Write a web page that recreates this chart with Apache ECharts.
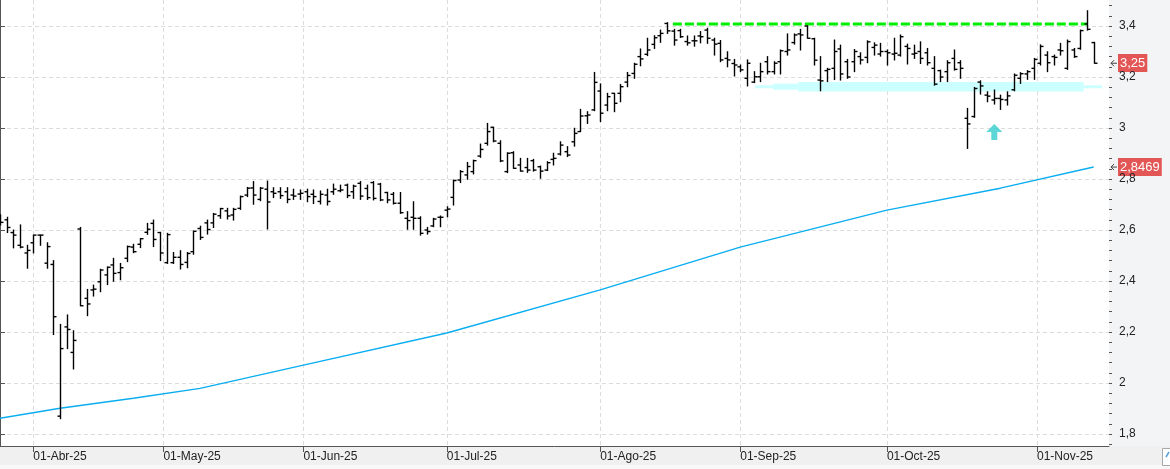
<!DOCTYPE html>
<html lang="es">
<head>
    <meta charset="UTF-8">
    <title>Barras OHLC diarias</title>
    <script src="https://cdn.jsdelivr.net/npm/echarts@6/dist/echarts.min.js"></script>
    <style>
        html, body { margin: 0; padding: 0; background: #f0f0f0; }
        #chart { width: 1170px; height: 469px; }
    </style>
</head>
<body>
<div id="chart"></div>

<script>
    // ---- datos ----
    var firstDay = '2025-03-25';
    var holidays = ['2025-04-18', '2025-04-21', '2025-05-01'];
    var monthNames = ['Ene', 'Feb', 'Mar', 'Abr', 'May', 'Jun', 'Jul', 'Ago', 'Sep', 'Oct', 'Nov', 'Dic'];
    var tickMonths = ['2025-04-01', '2025-05-01', '2025-06-01', '2025-07-01', '2025-08-01', '2025-09-01', '2025-10-01', '2025-11-01'];

    var open = [2.64, 2.64, 2.59, 2.54, 2.51, 2.55, 2.58, 2.47, 2.465, 1.87,
        2.22, 2.12, 2.604, 2.332, 2.365, 2.397, 2.424, 2.463, 2.433, 2.489,
        2.533, 2.544, 2.591, 2.626, 2.59, 2.472, 2.472, 2.493, 2.473, 2.515,
        2.606, 2.628, 2.628, 2.656, 2.675, 2.659, 2.685, 2.737, 2.765, 2.72,
        2.76, 2.75, 2.75, 2.75, 2.737, 2.741, 2.75, 2.74, 2.712, 2.737,
        2.75, 2.754, 2.776, 2.75, 2.783, 2.763, 2.786, 2.78, 2.747, 2.74,
        2.705, 2.646, 2.65, 2.646, 2.6, 2.616, 2.65, 2.678, 2.728, 2.796,
        2.816, 2.829, 2.89, 2.94, 3.003, 2.94, 2.829, 2.903, 2.855, 2.845,
        2.872, 2.848, 2.835, 2.877, 2.898, 2.907, 2.946, 2.986, 3.048, 3.071,
        3.145, 3.09, 3.136, 3.136, 3.18, 3.214, 3.28, 3.289, 3.328, 3.362,
        3.41, 3.38, 3.382, 3.339, 3.342, 3.361, 3.384, 3.345, 3.332, 3.273,
        3.253, 3.24, 3.195, 3.18, 3.201, 3.26, 3.221, 3.26, 3.30, 3.335,
        3.369, 3.40, 3.35, 3.188, 3.225, 3.234, 3.31, 3.26, 3.26, 3.28,
        3.277, 3.316, 3.29, 3.30, 3.29, 3.286, 3.32, 3.29, 3.30, 3.295,
        3.234, 3.225, 3.221, 3.273, 3.256, 3.038, 3.045, 3.18, 3.129, 3.11,
        3.116, 3.11, 3.15, 3.195, 3.212, 3.234, 3.254, 3.286, 3.28, 3.306,
        3.234, 3.306, 3.312, 3.408, 3.335];
    var high = [2.66, 2.65, 2.60, 2.62, 2.54, 2.58, 2.58, 2.55, 2.48, 2.23,
        2.267, 2.205, 2.61, 2.367, 2.384, 2.446, 2.455, 2.489, 2.469, 2.537,
        2.544, 2.567, 2.626, 2.639, 2.591, 2.587, 2.512, 2.519, 2.512, 2.596,
        2.615, 2.639, 2.665, 2.685, 2.685, 2.685, 2.733, 2.767, 2.79, 2.767,
        2.792, 2.766, 2.766, 2.766, 2.76, 2.757, 2.76, 2.757, 2.753, 2.76,
        2.78, 2.776, 2.78, 2.776, 2.79, 2.776, 2.79, 2.783, 2.748, 2.747,
        2.747, 2.672, 2.711, 2.652, 2.61, 2.646, 2.655, 2.691, 2.796, 2.833,
        2.865, 2.874, 2.937, 3.018, 3.003, 2.95, 2.903, 2.907, 2.881, 2.881,
        2.877, 2.851, 2.868, 2.901, 2.946, 2.927, 2.999, 3.073, 3.064, 3.218,
        3.173, 3.136, 3.136, 3.171, 3.218, 3.254, 3.31, 3.352, 3.362, 3.384,
        3.413, 3.387, 3.387, 3.361, 3.361, 3.378, 3.391, 3.352, 3.343, 3.299,
        3.269, 3.247, 3.267, 3.221, 3.254, 3.28, 3.26, 3.306, 3.369, 3.369,
        3.387, 3.401, 3.352, 3.28, 3.234, 3.345, 3.325, 3.269, 3.308, 3.295,
        3.342, 3.334, 3.332, 3.306, 3.352, 3.365, 3.329, 3.325, 3.338, 3.312,
        3.28, 3.227, 3.264, 3.306, 3.264, 3.077, 3.159, 3.185, 3.142, 3.149,
        3.129, 3.142, 3.212, 3.217, 3.225, 3.273, 3.326, 3.299, 3.286, 3.332,
        3.345, 3.312, 3.384, 3.46, 3.336];
    var low = [2.62, 2.59, 2.53, 2.53, 2.45, 2.51, 2.54, 2.45, 2.19, 1.86,
        2.135, 2.055, 2.303, 2.264, 2.341, 2.358, 2.386, 2.399, 2.405, 2.476,
        2.511, 2.531, 2.583, 2.535, 2.48, 2.469, 2.469, 2.447, 2.452, 2.505,
        2.563, 2.584, 2.61, 2.646, 2.643, 2.639, 2.681, 2.731, 2.701, 2.715,
        2.604, 2.727, 2.724, 2.707, 2.72, 2.72, 2.711, 2.704, 2.702, 2.698,
        2.74, 2.75, 2.727, 2.724, 2.72, 2.72, 2.718, 2.715, 2.707, 2.702,
        2.665, 2.603, 2.603, 2.58, 2.584, 2.613, 2.613, 2.652, 2.698, 2.786,
        2.799, 2.82, 2.885, 2.933, 2.946, 2.868, 2.825, 2.842, 2.831, 2.826,
        2.831, 2.803, 2.833, 2.855, 2.894, 2.888, 2.929, 2.986, 3.018, 3.068,
        3.025, 3.068, 3.064, 3.103, 3.162, 3.195, 3.244, 3.284, 3.312, 3.336,
        3.371, 3.325, 3.355, 3.325, 3.321, 3.334, 3.332, 3.286, 3.26, 3.24,
        3.204, 3.221, 3.165, 3.178, 3.182, 3.212, 3.212, 3.212, 3.286, 3.329,
        3.306, 3.352, 3.247, 3.146, 3.182, 3.19, 3.188, 3.195, 3.221, 3.251,
        3.256, 3.286, 3.282, 3.247, 3.267, 3.282, 3.251, 3.273, 3.253, 3.247,
        3.168, 3.182, 3.182, 3.227, 3.195, 2.92, 3.042, 3.133, 3.103, 3.094,
        3.073, 3.09, 3.146, 3.175, 3.191, 3.191, 3.247, 3.221, 3.247, 3.286,
        3.23, 3.277, 3.309, 3.384, 3.254];
    var close = [2.63, 2.61, 2.58, 2.533, 2.52, 2.58, 2.58, 2.535, 2.26, 2.135,
        2.21, 2.167, 2.303, 2.31, 2.368, 2.443, 2.454, 2.43, 2.452, 2.535,
        2.515, 2.566, 2.603, 2.563, 2.51, 2.582, 2.493, 2.465, 2.508, 2.595,
        2.571, 2.602, 2.662, 2.684, 2.655, 2.681, 2.731, 2.764, 2.737, 2.764,
        2.71, 2.744, 2.735, 2.72, 2.733, 2.744, 2.731, 2.731, 2.74, 2.712,
        2.76, 2.757, 2.735, 2.772, 2.733, 2.727, 2.724, 2.718, 2.718, 2.705,
        2.668, 2.637, 2.646, 2.587, 2.594, 2.643, 2.65, 2.682, 2.794, 2.829,
        2.849, 2.872, 2.916, 2.986, 2.949, 2.871, 2.901, 2.842, 2.831, 2.835,
        2.835, 2.831, 2.864, 2.881, 2.933, 2.894, 2.979, 3.047, 3.051, 3.179,
        3.058, 3.123, 3.097, 3.162, 3.206, 3.25, 3.271, 3.306, 3.354, 3.371,
        3.381, 3.345, 3.358, 3.334, 3.342, 3.358, 3.352, 3.329, 3.267, 3.267,
        3.247, 3.228, 3.254, 3.201, 3.221, 3.221, 3.254, 3.303, 3.306, 3.365,
        3.365, 3.352, 3.266, 3.185, 3.23, 3.30, 3.212, 3.20, 3.30, 3.267,
        3.338, 3.325, 3.30, 3.295, 3.293, 3.358, 3.312, 3.293, 3.273, 3.256,
        3.172, 3.20, 3.256, 3.23, 3.234, 3.016, 3.155, 3.165, 3.125, 3.116,
        3.112, 3.126, 3.207, 3.213, 3.221, 3.269, 3.32, 3.256, 3.277, 3.303,
        3.339, 3.28, 3.382, 3.387, 3.254];

    // media móvil (lectura en sesiones concretas)
    var maIdx = [0, 9, 20, 30, 45, 67, 90, 111, 133, 150, 164];
    var maVal = [1.862, 1.901, 1.94, 1.979, 2.067, 2.196, 2.365, 2.533, 2.678, 2.764, 2.8469];

    // trazos dibujados a mano
    var resistance = {level: 3.408, from: 100.9, to: 163};
    var supportBand = {level: 3.162, from: 113.2, to: 165.3};
    var arrowAt = [149.1, 2.984];

    // ---- construir calendario de sesiones ----
    function buildDays(n) {
        var out = [];
        var d = new Date(firstDay + 'T00:00:00Z');
        while (out.length < n) {
            var s = d.toISOString().slice(0, 10);
            var wd = d.getUTCDay();
            if (wd !== 0 && wd !== 6 && holidays.indexOf(s) < 0) out.push(s);
            d.setUTCDate(d.getUTCDate() + 1);
        }
        return out;
    }
    var days = buildDays(close.length);

    // si el día 1 no es sesión, la marca queda entre dos sesiones
    function monthPos(s) {
        for (var i = 0; i < days.length; i++) {
            if (days[i] === s) return i;
            if (days[i] > s) return i - 0.5;
        }
        return days.length;
    }
    var tickPos = tickMonths.map(monthPos);
    var tickText = tickMonths.map(function (s) {
        var p = s.split('-');
        return p[2] + '-' + monthNames[+p[1] - 1] + '-' + p[0].slice(2);
    });

    var yMajor = [], yMinor = [];
    for (var k = 0; k <= 8; k++) yMajor.push(+(1.8 + k * 0.2).toFixed(1));
    for (var k2 = 0; k2 <= 43; k2++) yMinor.push(+(1.76 + k2 * 0.04).toFixed(2));

    var bars = open.map(function (o, i) { return [i, o, high[i], low[i], close[i]]; });
    var maData = maIdx.map(function (x, i) { return [x, maVal[i]]; });

    var font = '"Liberation Sans", Arial, sans-serif';
    var chart = echarts.init(document.getElementById('chart'));

    function renderBar(params, api) {
        var i = api.value(0);
        var pO = api.coord([i, api.value(1)]);
        var pH = api.coord([i, api.value(2)]);
        var pL = api.coord([i, api.value(3)]);
        var pC = api.coord([i, api.value(4)]);
        var x = Math.round(pH[0]) + 0.5;
        var st = {stroke: '#000', lineWidth: 1.4};
        return {
            type: 'group',
            children: [
                {type: 'line', shape: {x1: x, y1: pH[1] - 0.5, x2: x, y2: pL[1] + 0.5}, style: st},
                {type: 'line', shape: {x1: x - 3, y1: pO[1], x2: x, y2: pO[1]}, style: st},
                {type: 'line', shape: {x1: x, y1: pC[1], x2: x + 3, y2: pC[1]}, style: st}
            ]
        };
    }

    function bandSeg(a, b, w) {
        return {
            type: 'line', data: [[a, supportBand.level], [b, supportBand.level]],
            symbol: 'none', silent: true, z: 1,
            lineStyle: {color: '#ccffff', width: w, cap: 'butt'}
        };
    }

    chart.setOption({
        animation: false,
        backgroundColor: '#f0f0f0',
        grid: {left: 0, right: 61, top: 0, bottom: 23, show: true, backgroundColor: '#fff', borderWidth: 0},
        xAxis: {
            type: 'value', min: 0, max: 166.3,
            axisLine: {show: true, onZero: false, lineStyle: {color: '#555', width: 1}},
            axisTick: {show: true, customValues: tickPos, length: 6, lineStyle: {color: '#555'}},
            axisLabel: {
                customValues: tickPos, align: 'left', margin: 5, color: '#222',
                fontSize: 12, fontFamily: font,
                formatter: function (v) {
                    for (var i = 0; i < tickPos.length; i++) {
                        if (Math.abs(tickPos[i] - v) < 0.01) return tickText[i];
                    }
                    return '';
                }
            },
            splitLine: {show: true, lineStyle: {color: '#dcdcdc', type: [4, 3]}}
        },
        yAxis: [{
            type: 'value', position: 'right', min: 1.753, max: 3.502,
            axisLine: {show: true, lineStyle: {color: '#555'}},
            axisTick: {show: true, customValues: yMajor, length: 5, lineStyle: {color: '#555'}},
            axisLabel: {
                customValues: yMajor, margin: 10, color: '#222', fontSize: 12, fontFamily: font,
                formatter: function (v) { return String(v).replace('.', ','); }
            },
            splitLine: {show: true, lineStyle: {color: '#dcdcdc', type: [4, 3]}}
        }, {
            type: 'value', position: 'right', min: 1.753, max: 3.502,
            axisLine: {show: false},
            axisTick: {show: true, customValues: yMinor, length: 3, lineStyle: {color: '#555'}},
            axisLabel: {show: false},
            splitLine: {show: false}
        }],
        series: [
            bandSeg(supportBand.from, supportBand.from + 2.7, 3),
            bandSeg(supportBand.from + 2.7, supportBand.from + 6.5, 6),
            bandSeg(supportBand.from + 6.5, supportBand.to - 2.8, 9.5),
            bandSeg(supportBand.to - 2.8, supportBand.to, 3),
            {
                type: 'line', data: maData, symbol: 'none', silent: true, z: 2,
                lineStyle: {color: '#0aaef0', width: 1.4}
            },
            {
                type: 'line', data: [[resistance.from, resistance.level], [resistance.to, resistance.level]],
                symbol: 'none', silent: true, z: 2,
                lineStyle: {color: '#00ee00', width: 3, type: [9, 3]}
            },
            {
                type: 'custom', renderItem: renderBar, data: bars, clip: true, z: 3,
                encode: {x: 0, y: [1, 2, 3, 4]}
            },
            {
                type: 'scatter', data: [arrowAt], silent: true, z: 4,
                symbol: 'path://M8,0 L16,8 L11,8 L11,16 L5,16 L5,8 L0,8 Z',
                symbolSize: [16, 16], itemStyle: {color: '#33cccc'}
            }
        ]
    });

    // etiquetas de precio sobre el eje
    var lastClose = close[close.length - 1];
    var lastMa = maVal[maVal.length - 1];
    function priceTag(value, text) {
        var y = chart.convertToPixel({yAxisIndex: 0}, value);
        return {
            type: 'group', z: 100,
            children: [
                {type: 'polyline', shape: {points: [[1117, y], [1111, y]]}, style: {stroke: '#444', lineWidth: 1}},
                {type: 'polyline', shape: {points: [[1114, y - 3], [1111, y], [1114, y + 3]]}, style: {stroke: '#444', fill: null, lineWidth: 1}},
                {
                    type: 'text', x: 1118, y: Math.round(y),
                    style: {
                        text: text, fill: '#fff', font: '13px ' + font, verticalAlign: 'middle',
                        backgroundColor: '#e25656', padding: [3, 2, 2, 2]
                    }
                }
            ]
        };
    }

    chart.setOption({
        graphic: [
            {type: 'rect', z: -100, shape: {x: 1109, y: 0, width: 61, height: 446}, style: {fill: '#f3f4f6'}},
            {type: 'rect', z: -100, shape: {x: 0, y: 465, width: 1170, height: 4}, style: {fill: '#f8f8f8'}},
            {type: 'rect', z: 100, shape: {x: 1162.5, y: 448.5, width: 10, height: 17}, style: {fill: '#fff', stroke: '#a8a8a8', lineWidth: 1}},
            {type: 'line', z: 101, shape: {x1: 1166, y1: 457, x2: 1169, y2: 452}, style: {stroke: '#5aa0d8', lineWidth: 1.5}},
            priceTag(lastClose, lastClose.toFixed(2).replace('.', ',')),
            priceTag(lastMa, lastMa.toFixed(4).replace('.', ','))
        ]
    });
</script>
</body>
</html>
